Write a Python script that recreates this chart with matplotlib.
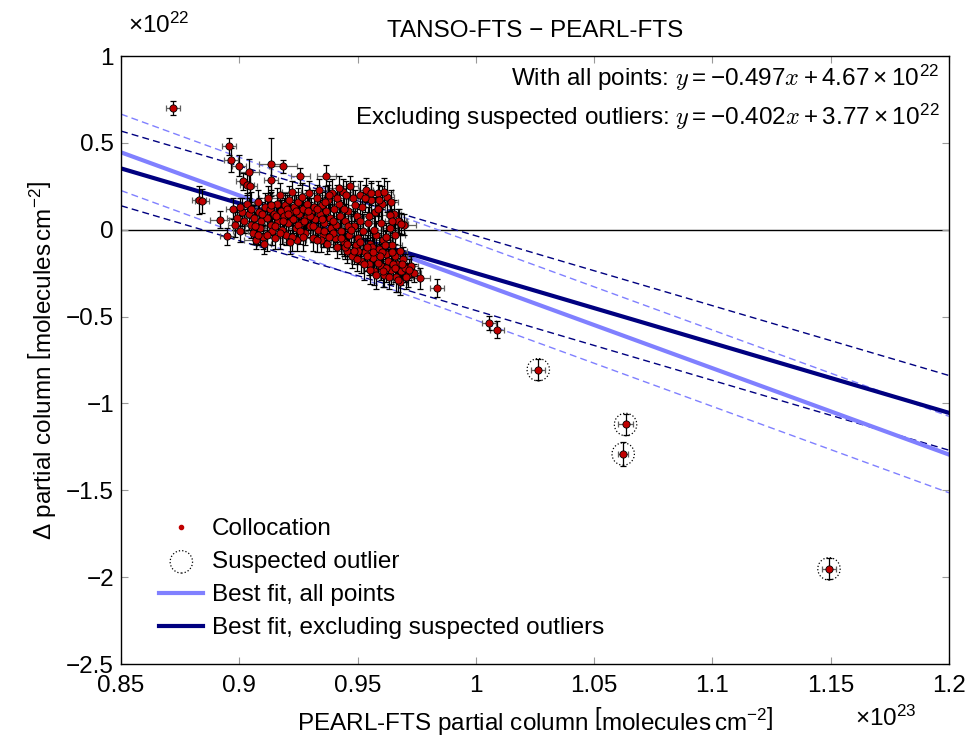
import numpy as np
import matplotlib
matplotlib.use("Agg")
import matplotlib.pyplot as plt
from matplotlib.lines import Line2D

# fonts: sans text, CM italic for math variables
plt.rcParams['font.family'] = ['Liberation Sans', 'DejaVu Sans']
plt.rcParams['mathtext.fontset'] = 'custom'
plt.rcParams['mathtext.rm'] = 'Liberation Sans'
plt.rcParams['mathtext.it'] = 'cmmi10'
plt.rcParams['mathtext.bf'] = 'Liberation Sans:bold'
plt.rcParams['mathtext.fallback'] = 'cm'

# --- data (x in 1e23, delta in 1e22 molecules cm^-2) ---
pearl = [
    0.8720, 0.8831, 0.8843, 0.8918, 0.8947, 0.8958, 0.8966, 0.8997, 0.9014, 0.9031,
    0.9042, 0.9045, 0.9134, 0.9135, 0.9186, 0.9257, 0.9367, 0.9680, 0.9835, 1.0057,
    1.0090,
    0.8975, 0.8990, 0.8982, 0.9005, 0.9012, 0.9003, 0.9021, 0.9034, 0.9040, 0.9048,
    0.9056, 0.9062, 0.9051, 0.9069, 0.9078, 0.9083, 0.9091, 0.9087, 0.9099, 0.9104,
    0.9110, 0.9115, 0.9122, 0.9128, 0.9133, 0.9140, 0.9146, 0.9152, 0.9158, 0.9163,
    0.9170, 0.9176, 0.9181, 0.9187, 0.9193, 0.9198, 0.9204, 0.9210, 0.9216, 0.9221,
    0.9226, 0.9232, 0.9238, 0.9243, 0.9249, 0.9254, 0.9260, 0.9266, 0.9271, 0.9277,
    0.9282, 0.9288, 0.9293, 0.9299, 0.9304, 0.9310, 0.9316, 0.9321, 0.9327, 0.9332,
    0.9338, 0.9343, 0.9349, 0.9354, 0.9360, 0.9366, 0.9371, 0.9377, 0.9382, 0.9388,
    0.9393, 0.9399, 0.9404, 0.9410, 0.9415, 0.9421, 0.9426, 0.9432, 0.9437, 0.9443,
    0.9448, 0.9454, 0.9459, 0.9465, 0.9470, 0.9476, 0.9481, 0.9487, 0.9492, 0.9498,
    0.9503, 0.9509, 0.9514, 0.9520, 0.9525, 0.9531, 0.9536, 0.9542, 0.9547, 0.9553,
    0.9558, 0.9564, 0.9569, 0.9575, 0.9580, 0.9586, 0.9591, 0.9597, 0.9602, 0.9608,
    0.9613, 0.9619, 0.9624, 0.9630, 0.9635, 0.9641, 0.9646, 0.9652, 0.9657, 0.9663,
    0.9668, 0.9674, 0.9679, 0.9685, 0.9690, 0.9696, 0.9701, 0.9712, 0.9725, 0.9740,
    0.9765, 0.9395, 0.9445, 0.9500, 0.9540, 0.9585, 0.9620, 0.9560, 0.9605, 0.9650,
    0.9300, 0.9250, 0.9350, 0.9200, 0.9150, 0.9460, 0.9510, 0.9570, 0.9620, 0.9080,
    0.9670, 0.9684, 0.9637, 0.9637,
    0.9065, 0.9095, 0.9118, 0.9136, 0.9157, 0.9172, 0.9184, 0.9207, 0.9223, 0.9241,
    0.9258, 0.9274, 0.9291, 0.9313, 0.9329, 0.9347, 0.9363, 0.9379, 0.9397, 0.9412,
    0.9428, 0.9441, 0.9456, 0.9471, 0.9484, 0.9496, 0.9512, 0.9527, 0.9539, 0.9551,
    0.9566, 0.9578, 0.9593, 0.9606, 0.9617, 0.9633, 0.9644, 0.9659, 0.9672, 0.9688,
    0.9705, 0.9718, 0.9530, 0.9555, 0.9590, 0.9610, 0.9640, 0.9585, 0.9550, 0.9600,
    0.9645, 0.9660, 0.9490, 0.9450, 0.9420, 0.9380, 0.9360, 0.9330, 0.9270, 0.9215,
]
delta = [
    0.70, 0.17, 0.165, 0.058, -0.038, 0.48, 0.40, 0.368, 0.278, 0.259,
    0.33, 0.249, 0.378, 0.284, 0.364, 0.307, 0.311, -0.303, -0.336, -0.537,
    -0.576,
    0.12, 0.07, 0.03, -0.01, 0.10, 0.13, 0.05, 0.15, 0.09, 0.03,
    -0.02, 0.07, 0.12, -0.06, 0.16, 0.10, 0.05, 0.01, -0.04, -0.08,
    0.13, 0.07, 0.18, 0.12, 0.03, -0.01, 0.09, -0.05, 0.15, 0.05,
    0.20, 0.11, 0.00, 0.08, 0.14, -0.03, 0.04, 0.17, 0.10, 0.22,
    0.06, 0.13, 0.01, -0.06, 0.16, 0.09, 0.04, 0.19, 0.12, -0.02,
    0.07, 0.15, 0.21, 0.02, 0.10, -0.05, 0.13, 0.06, 0.18, 0.00,
    0.23, 0.09, 0.14, -0.03, 0.04, 0.11, -0.08, 0.17, 0.07, 0.01,
    0.21, 0.12, -0.05, 0.03, -0.10, 0.15, 0.08, -0.01, 0.22, -0.07,
    0.05, -0.12, 0.11, -0.03, 0.25, -0.15, 0.18, 0.02, -0.09, 0.08,
    -0.05, 0.20, -0.18, 0.13, -0.01, -0.13, 0.23, 0.04, -0.20, -0.08,
    0.17, -0.16, -0.24, 0.10, -0.03, 0.21, -0.11, -0.21, 0.15, -0.06,
    -0.26, -0.14, 0.19, -0.18, 0.01, -0.23, -0.09, 0.09, -0.15, -0.27,
    -0.20, 0.05, -0.12, -0.24, -0.17, 0.03, -0.22, -0.26, -0.21, -0.25,
    -0.28, -0.02, -0.10, -0.12, -0.15, -0.19, -0.22, -0.10, -0.13, -0.20,
    0.08, 0.03, 0.06, 0.12, 0.02, 0.02, 0.05, 0.00, -0.04, -0.03,
    0.05, 0.035, 0.01, 0.086,
    0.02, 0.09, -0.03, 0.14, 0.08, -0.02, 0.05, 0.09, -0.04, 0.11,
    -0.01, 0.05, 0.11, 0.02, 0.12, -0.06, 0.16, -0.04, 0.05, 0.18,
    -0.05, 0.12, -0.08, 0.00, -0.12, -0.17, -0.07, -0.20, -0.10, -0.23,
    -0.13, -0.26, -0.15, -0.24, -0.09, -0.27, -0.13, -0.22, -0.29, -0.20,
    -0.27, -0.23, 0.18, 0.21, 0.17, 0.22, 0.16, 0.12, 0.08, 0.04,
    0.05, -0.03, 0.14, 0.20, 0.24, 0.20, -0.01, -0.06, -0.04, -0.07,
]
pearl_err = [
    0.003, 0.003, 0.003, 0.004, 0.003, 0.003, 0.003, 0.003, 0.003, 0.003,
    0.004, 0.003, 0.005, 0.003, 0.006, 0.004, 0.004, 0.003, 0.003, 0.003,
    0.003,
    0.003, 0.004, 0.003, 0.003, 0.004, 0.003, 0.005, 0.003, 0.004, 0.003,
    0.003, 0.004, 0.003, 0.005, 0.003, 0.004, 0.003, 0.003, 0.004, 0.003,
    0.005, 0.003, 0.004, 0.003, 0.003, 0.004, 0.003, 0.005, 0.003, 0.004,
    0.003, 0.003, 0.004, 0.003, 0.005, 0.003, 0.004, 0.003, 0.003, 0.004,
    0.003, 0.005, 0.003, 0.004, 0.003, 0.003, 0.004, 0.003, 0.005, 0.003,
    0.004, 0.003, 0.003, 0.004, 0.003, 0.005, 0.003, 0.004, 0.003, 0.003,
    0.004, 0.003, 0.005, 0.003, 0.004, 0.003, 0.003, 0.004, 0.003, 0.005,
    0.003, 0.004, 0.003, 0.003, 0.004, 0.003, 0.005, 0.003, 0.004, 0.003,
    0.003, 0.004, 0.003, 0.005, 0.003, 0.004, 0.003, 0.003, 0.004, 0.003,
    0.005, 0.003, 0.004, 0.003, 0.003, 0.004, 0.003, 0.005, 0.003, 0.004,
    0.003, 0.003, 0.004, 0.003, 0.005, 0.003, 0.004, 0.003, 0.003, 0.004,
    0.003, 0.005, 0.003, 0.004, 0.003, 0.003, 0.004, 0.003, 0.005, 0.003,
    0.004, 0.003, 0.003, 0.004, 0.003, 0.005, 0.003, 0.004, 0.003, 0.003,
    0.004, 0.003, 0.005, 0.003, 0.004, 0.003, 0.003, 0.004, 0.003, 0.005,
    0.003, 0.004, 0.003, 0.003, 0.004, 0.003, 0.005, 0.003, 0.004, 0.003,
    0.004, 0.003, 0.003, 0.004,
    0.004, 0.003, 0.005, 0.003, 0.004, 0.003, 0.003, 0.005, 0.004, 0.003,
    0.003, 0.004, 0.003, 0.005, 0.003, 0.004, 0.003, 0.003, 0.004, 0.005,
    0.003, 0.004, 0.003, 0.003, 0.005, 0.004, 0.003, 0.003, 0.004, 0.003,
    0.005, 0.003, 0.004, 0.003, 0.003, 0.004, 0.005, 0.003, 0.004, 0.003,
    0.003, 0.004, 0.003, 0.005, 0.003, 0.004, 0.003, 0.003, 0.004, 0.005,
    0.003, 0.004, 0.003, 0.003, 0.005, 0.004, 0.003, 0.003, 0.004, 0.003,
]
delta_err = [
    0.04, 0.08, 0.07, 0.05, 0.05, 0.05, 0.07, 0.06, 0.05, 0.06,
    0.08, 0.09, 0.15, 0.09, 0.04, 0.05, 0.06, 0.07, 0.05, 0.04,
    0.05,
    0.06, 0.05, 0.07, 0.06, 0.08, 0.05, 0.07, 0.06, 0.09, 0.08,
    0.06, 0.07, 0.10, 0.05, 0.07, 0.08, 0.06, 0.09, 0.07, 0.06,
    0.08, 0.10, 0.07, 0.09, 0.06, 0.08, 0.07, 0.06, 0.09, 0.08,
    0.07, 0.06, 0.08, 0.10, 0.07, 0.06, 0.09, 0.08, 0.07, 0.06,
    0.08, 0.09, 0.07, 0.06, 0.08, 0.07, 0.10, 0.08, 0.06, 0.07,
    0.09, 0.08, 0.07, 0.06, 0.08, 0.07, 0.10, 0.09, 0.08, 0.07,
    0.06, 0.09, 0.08, 0.07, 0.10, 0.08, 0.06, 0.09, 0.08, 0.07,
    0.08, 0.09, 0.07, 0.10, 0.06, 0.09, 0.08, 0.07, 0.07, 0.08,
    0.10, 0.07, 0.09, 0.08, 0.06, 0.07, 0.10, 0.09, 0.08, 0.07,
    0.09, 0.08, 0.07, 0.09, 0.10, 0.08, 0.07, 0.09, 0.06, 0.08,
    0.10, 0.07, 0.08, 0.09, 0.08, 0.07, 0.09, 0.08, 0.10, 0.09,
    0.07, 0.08, 0.09, 0.07, 0.10, 0.08, 0.09, 0.08, 0.07, 0.09,
    0.08, 0.07, 0.09, 0.08, 0.07, 0.06, 0.08, 0.07, 0.06, 0.05,
    0.06, 0.08, 0.07, 0.08, 0.09, 0.07, 0.08, 0.08, 0.07, 0.08,
    0.08, 0.07, 0.09, 0.08, 0.07, 0.09, 0.08, 0.09, 0.08, 0.06,
    0.07, 0.06, 0.08, 0.07,
    0.08, 0.07, 0.09, 0.08, 0.07, 0.09, 0.08, 0.07, 0.08, 0.09,
    0.07, 0.08, 0.07, 0.09, 0.08, 0.07, 0.09, 0.08, 0.07, 0.08,
    0.09, 0.08, 0.07, 0.09, 0.08, 0.07, 0.08, 0.09, 0.07, 0.08,
    0.09, 0.08, 0.07, 0.09, 0.08, 0.07, 0.09, 0.08, 0.07, 0.08,
    0.07, 0.06, 0.08, 0.07, 0.09, 0.08, 0.07, 0.08, 0.09, 0.08,
    0.07, 0.08, 0.09, 0.08, 0.07, 0.08, 0.09, 0.07, 0.08, 0.07,
]

# suspected outliers
out_pearl = [1.0264, 1.0633, 1.0623, 1.1493]
out_delta = [-0.806, -1.121, -1.291, -1.952]
out_pearl_err = [0.003, 0.003, 0.002, 0.003]
out_delta_err = [0.06, 0.06, 0.07, 0.06]

# fit results (slope, intercept in 1e22) and 1-sigma band
slope_all, icpt_all, band_all = -0.497, 4.67, 0.22
slope_ex, icpt_ex, band_ex = -0.402, 3.77, 0.215

x_lim = (0.85, 1.2)
y_lim = (-2.5, 1.0)
x_ticks = [0.85, 0.9, 0.95, 1.0, 1.05, 1.1, 1.15, 1.2]
x_ticklabels = ['0.85', '0.9', '0.95', '1', '1.05', '1.1', '1.15', '1.2']
y_ticks = [-2.5, -2, -1.5, -1, -0.5, 0, 0.5, 1]
y_ticklabels = ['\u22122.5', '\u22122', '\u22121.5', '\u22121', '\u22120.5',
                '0', '0.5', '1']

light = '#8080ff'
navy = '#000080'
red = '#c00000'
fs = 17.5

fig = plt.figure(figsize=(9.66, 7.37), dpi=100)
ax = fig.add_axes([0.1253, 0.099, 0.857, 0.825])

xx = np.array(x_lim)
y_all = slope_all * 10 * xx + icpt_all
y_ex = slope_ex * 10 * xx + icpt_ex

ax.axhline(0, color='black', lw=1.0, zorder=1)
for off in (band_all, -band_all):
    ax.plot(xx, y_all + off, color=light, lw=1.0, ls=(0, (5, 3)), zorder=2)
for off in (band_ex, -band_ex):
    ax.plot(xx, y_ex + off, color=navy, lw=1.0, ls=(0, (5, 3)), zorder=2)
ax.plot(xx, y_all, color=light, lw=3, zorder=2)
ax.plot(xx, y_ex, color=navy, lw=3, zorder=2)

all_x = pearl + out_pearl
all_y = delta + out_delta
all_xe = pearl_err + out_pearl_err
all_ye = delta_err + out_delta_err

ax.errorbar(all_x, all_y, xerr=all_xe, fmt='none', ecolor='#606060',
            elinewidth=0.9, capsize=2.5, capthick=0.9, zorder=3)
ax.errorbar(all_x, all_y, yerr=all_ye, fmt='none', ecolor='black',
            elinewidth=0.9, capsize=2.5, capthick=0.9, zorder=3)
ax.plot(all_x, all_y, 'o', color=red, mec='black', mew=0.6, ms=5.2,
        ls='none', zorder=4)
outl = ax.scatter(out_pearl, out_delta, s=260, facecolors='none', edgecolors='black',
                  linestyles=':', linewidths=0.9, zorder=5)

ax.set_xlim(*x_lim)
ax.set_ylim(*y_lim)
ax.set_xticks(x_ticks)
ax.set_xticklabels(x_ticklabels)
ax.set_yticks(y_ticks)
ax.set_yticklabels(y_ticklabels)
ax.tick_params(direction='in', length=5, width=0.8, color='#999999',
               labelsize=fs, top=True, right=True, pad=5)
ax.tick_params(axis='x', pad=8)
for s in ax.spines.values():
    s.set_linewidth(1.0)

ax.set_title('TANSO-FTS \u2212 PEARL-FTS', fontsize=fs, pad=14)
ax.set_xlabel(r'PEARL-FTS partial column $\left[\mathrm{molecules\,cm^{-2}}\right]$',
              fontsize=fs, labelpad=6)
ax.set_ylabel(r'$\Delta$ partial column $\left[\mathrm{molecules\,cm^{-2}}\right]$',
              fontsize=fs, labelpad=6)
fig.text(0.133, 0.966, r'$\times\mathrm{10^{22}}$', fontsize=fs, va='center')
fig.text(0.885, 0.026, r'$\times\mathrm{10^{23}}$', fontsize=fs, va='center')

ax.text(0.989, 0.964, r'With all points: $y = -0.497x + 4.67\times10^{22}$',
        transform=ax.transAxes, ha='right', va='center', fontsize=fs)
ax.text(0.989, 0.900, r'Excluding suspected outliers: $y = -0.402x + 3.77\times10^{22}$',
        transform=ax.transAxes, ha='right', va='center', fontsize=fs)

handles = [
    Line2D([], [], marker='o', color=red, mec=red, ms=3, ls='none'),
    outl,
    Line2D([], [], color=light, lw=3),
    Line2D([], [], color=navy, lw=3),
]
labels = ['Collocation', 'Suspected outlier', 'Best fit, all points',
          'Best fit, excluding suspected outliers']
ax.legend(handles, labels, loc='lower left', bbox_to_anchor=(0.02, 0.005),
          frameon=False, fontsize=fs, handlelength=1.8, labelspacing=0.45,
          handletextpad=0.35, scatterpoints=1)

fig.savefig('out.png', dpi=100)
